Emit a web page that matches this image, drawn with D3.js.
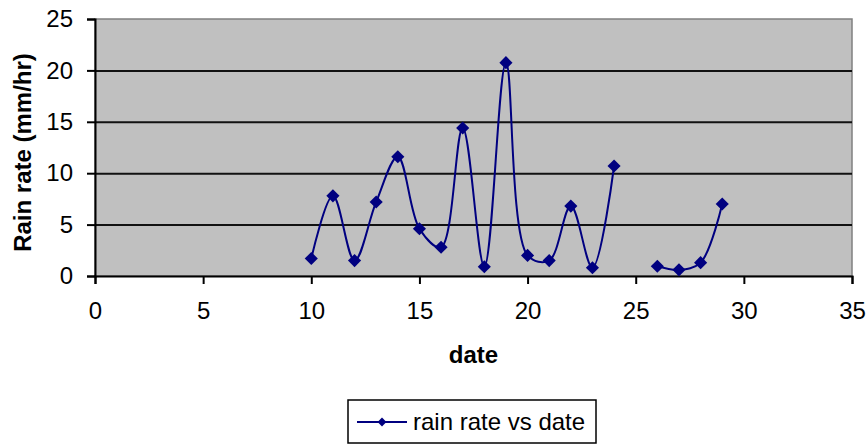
<!DOCTYPE html>
<html>
<head>
<meta charset="utf-8">
<script src="https://cdn.jsdelivr.net/npm/d3@7"></script>
<style>
  body { margin: 0; background: #fff; }
  svg { display: block; font-family: "Liberation Sans", Arial, sans-serif; }
  .tick text { font-size: 24px; fill: #000; }
  .axis path, .axis line { stroke: #000; stroke-width: 2; }
  .grid line { stroke: #111; stroke-width: 2; }
  .grid path { display: none; }
</style>
</head>
<body>
<div id="chart"></div>
<script>
// Data (no reading for date 25)
const dates = [10, 11, 12, 13, 14, 15, 16, 17, 18, 19, 20, 21, 22, 23, 24, 25, 26, 27, 28, 29]
const rainRate = [1.7, 7.8, 1.5, 7.2, 11.6, 4.6, 2.8, 14.4, 0.9, 20.75, 2.0, 1.5, 6.8, 0.8, 10.7, null, 0.95, 0.6, 1.3, 7.0]
const xTicks = [0, 5, 10, 15, 20, 25, 30, 35]
const yTicks = [0, 5, 10, 15, 20, 25]
const seriesName = 'rain rate vs date'

const data = dates.map((d, i) => ({ date: d, rate: rainRate[i] }))

const width = 866
const height = 447
const margin = { top: 19, right: 14, bottom: 171, left: 95 }
const innerWidth = width - margin.left - margin.right
const innerHeight = height - margin.top - margin.bottom

const svg = d3.select('#chart')
  .append('svg')
  .attr('width', width)
  .attr('height', height)

const g = svg.append('g')
  .attr('transform', `translate(${margin.left}, ${margin.top})`)

const xScale = d3.scaleLinear().domain([0, 35]).range([0, innerWidth])
const yScale = d3.scaleLinear().domain([0, 25]).range([innerHeight, 0])

// Plot area background
g.append('rect')
  .attr('width', innerWidth)
  .attr('height', innerHeight)
  .attr('fill', '#c0c0c0')
  .attr('stroke', '#808080')
  .attr('stroke-width', 1.5)

// Horizontal gridlines
g.append('g')
  .attr('class', 'grid')
  .call(
    d3.axisLeft(yScale)
      .tickValues(yTicks.filter(v => v > 0 && v < 25))
      .tickSize(-innerWidth)
      .tickFormat('')
  )

// Bottom axis
g.append('g')
  .attr('class', 'axis')
  .attr('transform', `translate(0, ${innerHeight})`)
  .call(
    d3.axisBottom(xScale)
      .tickValues(xTicks)
      .tickSizeOuter(0)
      .tickSize(8)
      .tickPadding(18)
      .tickFormat(d3.format('d'))
  )

// Left axis
g.append('g')
  .attr('class', 'axis')
  .call(
    d3.axisLeft(yScale)
      .tickValues(yTicks)
      .tickSizeOuter(0)
      .tickSize(8)
      .tickPadding(14)
      .tickFormat(d3.format('d'))
  )

// Axis titles
svg.append('text')
  .attr('x', margin.left + innerWidth / 2)
  .attr('y', 363)
  .attr('text-anchor', 'middle')
  .attr('font-size', 24)
  .attr('font-weight', 'bold')
  .text('date')

svg.append('text')
  .attr('transform', `translate(31, ${margin.top + innerHeight / 2 + 5}) rotate(-90)`)
  .attr('text-anchor', 'middle')
  .attr('font-size', 24)
  .attr('font-weight', 'bold')
  .text('Rain rate (mm/hr)')

// Smoothed series line, broken where there is no reading
const rateLine = d3.line()
  .defined(d => d.rate != null)
  .x(d => xScale(d.date))
  .y(d => yScale(d.rate))
  .curve(d3.curveCatmullRom.alpha(0.5))

g.append('path')
  .datum(data)
  .attr('fill', 'none')
  .attr('stroke', '#000080')
  .attr('stroke-width', 2)
  .attr('d', rateLine)

const diamond = d3.symbol().type(d3.symbolDiamond2).size(110)

g.selectAll('.marker')
  .data(data.filter(d => d.rate != null))
  .join('path')
  .attr('class', 'marker')
  .attr('transform', d => `translate(${xScale(d.date)}, ${yScale(d.rate)})`)
  .attr('fill', '#000080')
  .attr('d', diamond)

// Legend
const legend = svg.append('g').attr('transform', 'translate(348, 400)')

legend.append('rect')
  .attr('width', 248)
  .attr('height', 43)
  .attr('fill', '#fff')
  .attr('stroke', '#000')
  .attr('stroke-width', 1.5)

legend.append('line')
  .attr('x1', 9)
  .attr('x2', 59)
  .attr('y1', 22)
  .attr('y2', 22)
  .attr('stroke', '#000080')
  .attr('stroke-width', 2)

legend.append('path')
  .attr('transform', 'translate(34, 22)')
  .attr('fill', '#000080')
  .attr('d', d3.symbol().type(d3.symbolDiamond2).size(50))

legend.append('text')
  .attr('x', 65)
  .attr('y', 30)
  .attr('font-size', 24)
  .text(seriesName)
</script>
</body>
</html>
